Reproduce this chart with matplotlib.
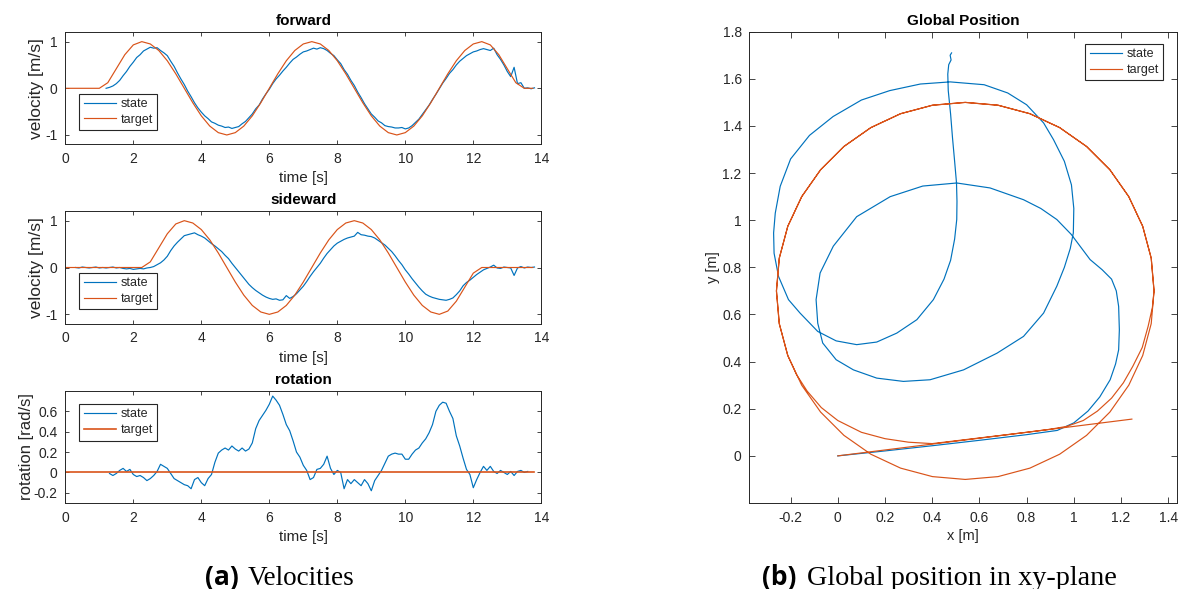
import numpy as np
import matplotlib.pyplot as plt

plt.rcParams['font.family'] = ['Liberation Sans', 'DejaVu Sans']
plt.rcParams['axes.unicode_minus'] = False

BLUE = '#0072BD'
ORANGE = '#D95319'
DARK = '#262626'

# --- velocity data (time grids start / step) ---
fwd_target_t0, ref_dt = 0.0, 0.25
fwd_target = [0, 0, 0, 0, 0,
              0.12, 0.42, 0.72, 0.93, 1.0,
              0.95, 0.81, 0.59, 0.31, 0.0,
              -0.31, -0.59, -0.81, -0.95, -1.0,
              -0.95, -0.81, -0.59, -0.31, 0.0,
              0.31, 0.59, 0.81, 0.95, 1.0,
              0.95, 0.81, 0.59, 0.31, 0.0,
              -0.31, -0.59, -0.81, -0.95, -1.0,
              -0.95, -0.81, -0.59, -0.31, 0.0,
              0.31, 0.59, 0.81, 0.95, 1.0,
              0.93, 0.72, 0.42, 0.12, 0.0,
              0.0]

side_target = [0, 0, 0, 0, 0, 0, 0, 0, 0, 0,
               0.12, 0.42, 0.72, 0.93, 1.0,
               0.95, 0.81, 0.59, 0.31, 0.0,
               -0.31, -0.59, -0.81, -0.95, -1.0,
               -0.95, -0.81, -0.59, -0.31, 0.0,
               0.31, 0.59, 0.81, 0.95, 1.0,
               0.95, 0.81, 0.59, 0.31, 0.0,
               -0.31, -0.59, -0.81, -0.95, -1.0,
               -0.93, -0.72, -0.42, -0.12, 0.0,
               0, 0, 0, 0, 0, 0]

rot_target_t = [0.0, 13.8]
rot_target = [0.0, 0.0]

state_dt = 0.1
fwd_state_t0 = 1.2
fwd_state = [0.00, 0.02, 0.05, 0.10, 0.17, 0.27, 0.36, 0.47, 0.56, 0.66,
             0.72, 0.80, 0.84, 0.88, 0.86, 0.87, 0.81, 0.76, 0.70, 0.58,
             0.47, 0.33, 0.20, 0.08, -0.06, -0.18, -0.31, -0.42, -0.51, -0.59,
             -0.65, -0.72, -0.75, -0.79, -0.81, -0.84, -0.83, -0.86, -0.84, -0.82,
             -0.76, -0.71, -0.63, -0.55, -0.44, -0.36, -0.23, -0.12, -0.02, 0.10,
             0.20, 0.28, 0.37, 0.45, 0.54, 0.62, 0.67, 0.73, 0.78, 0.80,
             0.83, 0.86, 0.84, 0.87, 0.85, 0.81, 0.75, 0.70, 0.61, 0.53,
             0.40, 0.30, 0.17, 0.06, -0.08, -0.20, -0.33, -0.44, -0.55, -0.62,
             -0.70, -0.74, -0.80, -0.82, -0.83, -0.85, -0.85, -0.84, -0.87, -0.85,
             -0.80, -0.73, -0.66, -0.56, -0.46, -0.36, -0.24, -0.13, -0.01, 0.11,
             0.21, 0.32, 0.40, 0.50, 0.58, 0.64, 0.70, 0.74, 0.78, 0.80,
             0.83, 0.85, 0.83, 0.81, 0.86, 0.72, 0.62, 0.50, 0.36, 0.25,
             0.45, 0.10, 0.12, 0.00, 0.01, -0.01, 0.01]

side_state_t0 = 0.3
side_state = [0.00, -0.01, 0.01, 0.00, -0.01, 0.00, 0.01, -0.01, 0.00, -0.01,
              0.00, 0.01, -0.01, 0.00, -0.02, -0.03, -0.02, -0.04, -0.03, -0.02,
              -0.03, -0.01, 0.00, 0.02, 0.06, 0.10, 0.16, 0.24, 0.36, 0.46,
              0.54, 0.61, 0.68, 0.70, 0.72, 0.74, 0.70, 0.67, 0.63, 0.57,
              0.51, 0.46, 0.40, 0.34, 0.26, 0.19, 0.09, 0.00, -0.09, -0.18,
              -0.27, -0.36, -0.43, -0.49, -0.54, -0.59, -0.63, -0.66, -0.68, -0.67,
              -0.70, -0.69, -0.60, -0.66, -0.62, -0.56, -0.48, -0.40, -0.30, -0.19,
              -0.09, 0.00, 0.09, 0.20, 0.30, 0.38, 0.46, 0.52, 0.56, 0.60,
              0.63, 0.65, 0.67, 0.75, 0.70, 0.69, 0.67, 0.66, 0.63, 0.58,
              0.53, 0.48, 0.41, 0.34, 0.25, 0.15, 0.06, -0.05, -0.14, -0.24,
              -0.33, -0.42, -0.50, -0.57, -0.61, -0.64, -0.66, -0.68, -0.69, -0.70,
              -0.68, -0.65, -0.58, -0.50, -0.39, -0.32, -0.27, -0.21, -0.15, -0.10,
              -0.05, -0.02, 0.01, 0.05, -0.01, -0.02, 0.01, 0.00, -0.01, -0.17,
              -0.01, 0.02, -0.01, 0.01, 0.00, 0.01]

rot_state_t0 = 1.3
rot_state = [-0.01, -0.03, -0.01, 0.02, 0.04, 0.01, 0.03, -0.02, -0.04, -0.03,
             -0.05, -0.08, -0.06, -0.03, 0.01, 0.08, 0.06, 0.04, -0.01, -0.06,
             -0.08, -0.10, -0.12, -0.13, -0.16, -0.07, -0.05, -0.10, -0.13, -0.06,
             -0.02, 0.10, 0.19, 0.22, 0.24, 0.22, 0.26, 0.23, 0.21, 0.24,
             0.21, 0.23, 0.29, 0.43, 0.51, 0.56, 0.61, 0.67, 0.75, 0.71,
             0.66, 0.57, 0.47, 0.41, 0.31, 0.20, 0.15, 0.07, 0.02, -0.07,
             -0.05, 0.03, 0.04, 0.08, 0.16, 0.04, -0.02, 0.02, 0.00, -0.16,
             -0.07, -0.11, -0.07, -0.10, -0.13, -0.07, -0.11, -0.18, -0.08, -0.03,
             0.02, 0.09, 0.16, 0.18, 0.19, 0.18, 0.18, 0.13, 0.13, 0.18,
             0.22, 0.24, 0.29, 0.33, 0.39, 0.47, 0.60, 0.66, 0.69, 0.68,
             0.60, 0.53, 0.36, 0.26, 0.14, 0.03, -0.02, -0.15, -0.07, 0.00,
             0.06, 0.02, 0.06, 0.01, -0.01, 0.02, 0.00, -0.02, 0.01, -0.03,
             0.01, 0.02, 0.00, 0.01]

# --- global position data ---
tgt_in_x = [0.0, 0.2, 0.4, 0.6, 0.8, 0.9, 0.97, 1.04, 1.10, 1.16, 1.21, 1.25, 1.29, 1.315, 1.333]
tgt_in_y = [0.0, 0.025, 0.05, 0.075, 0.10, 0.113, 0.125, 0.15, 0.19, 0.245, 0.31, 0.38, 0.46, 0.55, 0.63]

loop_x = [1.34, 1.328, 1.292, 1.233, 1.153, 1.054, 0.94, 0.814, 0.679, 0.54,
          0.401, 0.266, 0.14, 0.026, -0.073, -0.153, -0.212, -0.248, -0.26,
          -0.248, -0.212, -0.153, -0.073, 0.026, 0.14, 0.266, 0.401, 0.54,
          0.679, 0.814, 0.94, 1.054, 1.153, 1.233, 1.292, 1.328, 1.34]
loop_y = [0.70, 0.839, 0.974, 1.10, 1.214, 1.313, 1.393, 1.452, 1.488, 1.50,
          1.488, 1.452, 1.393, 1.313, 1.214, 1.10, 0.974, 0.839, 0.70,
          0.561, 0.426, 0.30, 0.186, 0.087, 0.007, -0.052, -0.088, -0.10,
          -0.088, -0.052, 0.007, 0.087, 0.186, 0.30, 0.426, 0.561, 0.70]

tgt_out_x = [-0.175, -0.13, -0.07, 0.0, 0.1, 0.2, 0.3, 0.4, 0.6, 0.8, 1.0, 1.246]
tgt_out_y = [0.345, 0.275, 0.205, 0.15, 0.10, 0.073, 0.058, 0.052, 0.076, 0.10, 0.125, 0.156]

state_x = [0.0, 0.2, 0.4, 0.6, 0.8, 0.93, 1.0, 1.06, 1.11, 1.154, 1.177, 1.19, 1.193, 1.19,
           1.18, 1.16, 1.12, 1.069, 0.989, 0.928, 0.86, 0.787, 0.645, 0.504, 0.36, 0.222,
           0.08, -0.019, -0.075, -0.092, -0.085, -0.064, -0.007, 0.066, 0.165, 0.278,
           0.391, 0.533, 0.675, 0.787, 0.872, 0.928, 0.96, 0.985, 0.998, 1.0, 0.99, 0.96,
           0.914, 0.872, 0.80, 0.72, 0.62, 0.476, 0.35, 0.22, 0.10, -0.02, -0.12, -0.20,
           -0.244, -0.265, -0.272, -0.27, -0.251, -0.209, -0.16, -0.085, -0.007, 0.08,
           0.165, 0.25, 0.335, 0.405, 0.45, 0.478, 0.495, 0.504, 0.505, 0.503, 0.495,
           0.486, 0.478, 0.468, 0.466, 0.47, 0.48, 0.476, 0.482]
state_y = [0.0, 0.021, 0.043, 0.066, 0.09, 0.108, 0.14, 0.19, 0.25, 0.323, 0.39, 0.45, 0.535,
           0.634, 0.70, 0.75, 0.79, 0.833, 0.94, 1.003, 1.05, 1.087, 1.137, 1.158, 1.145,
           1.10, 1.015, 0.89, 0.776, 0.663, 0.563, 0.479, 0.408, 0.365, 0.33, 0.316, 0.323,
           0.365, 0.436, 0.507, 0.606, 0.72, 0.80, 0.88, 0.946, 1.05, 1.15, 1.25, 1.342,
           1.413, 1.49, 1.54, 1.575, 1.587, 1.578, 1.55, 1.51, 1.44, 1.36, 1.26, 1.144,
           1.03, 0.946, 0.86, 0.761, 0.663, 0.606, 0.528, 0.488, 0.472, 0.483, 0.521,
           0.578, 0.663, 0.75, 0.83, 0.92, 1.003, 1.08, 1.158, 1.25, 1.35, 1.45, 1.55,
           1.62, 1.66, 1.68, 1.70, 1.71]


def grid(t0, dt, vals):
    return t0 + dt * np.arange(len(vals))


def style(ax, ticklen=3):
    ax.tick_params(direction='in', top=True, right=True, length=ticklen, width=0.6,
                   colors=DARK, labelsize=10, pad=5.5)
    for s in ax.spines.values():
        s.set_color(DARK)
        s.set_linewidth(0.7)


def legend(ax, loc, anchor):
    lg = ax.legend(loc=loc, bbox_to_anchor=anchor, borderaxespad=0, fontsize=9,
                   handlelength=2.6, handletextpad=0.35, borderpad=0.35,
                   labelspacing=0.3, fancybox=False, framealpha=1, edgecolor=DARK)
    lg.get_frame().set_linewidth(0.8)
    for t in lg.get_texts():
        t.set_color(DARK)


fig = plt.figure(figsize=(11.79, 5.89), dpi=100)
W, H = 1179, 589


def axes_px(x0, x1, y0, y1):
    return fig.add_axes([x0 / W, 1 - y1 / H, (x1 - x0) / W, (y1 - y0) / H])


lw = 0.85
panels = [
    ('forward', 32.3, 144.3, fwd_state_t0, fwd_state, fwd_target, 'velocity [m/s]'),
    ('sideward', 211.3, 323.7, side_state_t0, side_state, side_target, 'velocity [m/s]'),
]
for title, top, bot, t0, st, tg, ylab in panels:
    ax = axes_px(65.3, 541.3, top, bot)
    ax.plot(grid(t0, state_dt, st), st, color=BLUE, lw=lw, label='state')
    ax.plot(grid(0.0, ref_dt, tg), tg, color=ORANGE, lw=lw, label='target')
    ax.set_xlim(0, 14)
    ax.set_ylim(-1.2, 1.2)
    ax.set_xticks([0, 2, 4, 6, 8, 10, 12, 14])
    ax.set_yticks([-1, 0, 1])
    ax.set_title(title, fontsize=11, fontweight='bold', color='black', pad=5)
    ax.set_xlabel('time [s]', fontsize=11, color=DARK, labelpad=4)
    ax.set_ylabel(ylab, fontsize=12.5, color=DARK, labelpad=1)
    style(ax)
    legend(ax, 'lower left', (14 / 476, 14.3 / 112))

ax = axes_px(65.3, 541.3, 391.0, 503.0)
ax.plot(grid(rot_state_t0, state_dt, rot_state), rot_state, color=BLUE, lw=lw, label='state')
ax.plot(rot_target_t, rot_target, color=ORANGE, lw=lw * 1.4, label='target')
ax.set_xlim(0, 14)
ax.set_ylim(-0.3, 0.8)
ax.set_xticks([0, 2, 4, 6, 8, 10, 12, 14])
ax.set_yticks([-0.2, 0, 0.2, 0.4, 0.6])
ax.set_yticklabels(['-0.2', '0', '0.2', '0.4', '0.6'])
ax.set_title('rotation', fontsize=11, fontweight='bold', color='black', pad=5)
ax.set_xlabel('time [s]', fontsize=11, color=DARK, labelpad=4)
ax.set_ylabel('rotation [rad/s]', fontsize=12, color=DARK, labelpad=0)
style(ax)
legend(ax, 'upper left', (14 / 476, 1 - 13 / 112))

# global position
tx = np.concatenate([tgt_in_x, loop_x, loop_x[1:21], tgt_out_x])
ty = np.concatenate([tgt_in_y, loop_y, loop_y[1:21], tgt_out_y])
ax = axes_px(749.3, 1176.7, 31.7, 503.0)
ax.plot(state_x, state_y, color=BLUE, lw=lw, label='state')
ax.plot(tx, ty, color=ORANGE, lw=lw, label='target')
ax.set_xlim(-0.375, 1.436)
ax.set_ylim(-0.2, 1.8)
xt = [-0.2, 0, 0.2, 0.4, 0.6, 0.8, 1, 1.2, 1.4]
yt = [0, 0.2, 0.4, 0.6, 0.8, 1, 1.2, 1.4, 1.6, 1.8]
ax.set_xticks(xt)
ax.set_xticklabels([f'{v:g}' for v in xt])
ax.set_yticks(yt)
ax.set_yticklabels([f'{v:g}' for v in yt])
ax.set_title('Global Position', fontsize=11, fontweight='bold', color='black', pad=5)
ax.set_xlabel('x [m]', fontsize=10.5, color=DARK, labelpad=3)
ax.set_ylabel('y [m]', fontsize=10.5, color=DARK, labelpad=2)
style(ax, ticklen=4)
legend(ax, 'upper right', (1 - 13.4 / 427.4, 1 - 12.3 / 471.3))

# sub-captions
base = (H - 585) / H
fig.text(205 / W, base, '(a)', family=['Open Sans', 'DejaVu Sans'], fontweight='bold',
         fontsize=19, va='baseline')
fig.text(247.3 / W, base, 'Velocities', family=['Liberation Serif', 'DejaVu Serif'],
         fontsize=19.5, va='baseline')
fig.text(761.7 / W, base, '(b)', family=['Open Sans', 'DejaVu Sans'], fontweight='bold',
         fontsize=19, va='baseline')
fig.text(806.7 / W, base, 'Global position in xy-plane',
         family=['Liberation Serif', 'DejaVu Serif'], fontsize=20.3, va='baseline')

fig.savefig('out.png', dpi=100)
